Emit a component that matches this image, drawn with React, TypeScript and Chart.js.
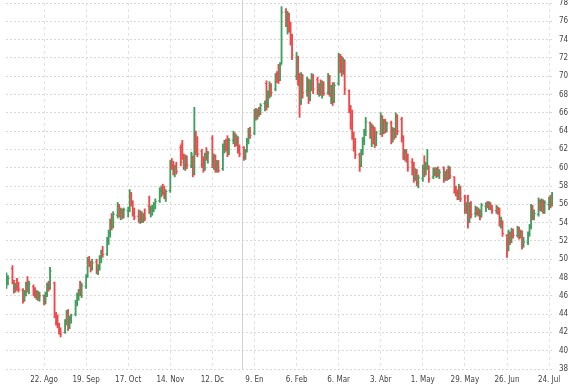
import { useEffect, useRef } from "react";
import { Chart, registerables } from "chart.js";

Chart.register(...registerables);

// Day numbers count from Monday 25 Jul 2016 (= day 0)
const FIRST_DAY = 3; // Thu 28 Jul 2016
const LAST_DAY = 366; // Wed 26 Jul 2017
const X_MIN = 2.7;
const X_MAX = 366.6;
const YEAR_LINE_DAY = 160; // 1 Jan 2017

const tickDays = [28, 56, 84, 112, 140, 168, 196, 224, 252, 280, 308, 336, 364];
const tickLabels = ["22. Ago", "19. Sep", "17. Oct", "14. Nov", "12. Dc", "9. En", "6. Feb", "6. Mar", "3. Abr", "1. May", "29. May", "26. Jun", "24. Jul"];

const opens = [
  47.2,47.6,49.0,47.4,46.9,47.7,47.0,46.6,45.6,46.3,
  47.4,46.8,47.0,46.5,46.2,46.4,45.9,46.0,45.4,46.1,
  47.1,46.9,47.4,44.0,43.3,42.9,42.3,42.0,43.1,44.0,
  42.6,43.5,44.0,45.2,45.9,46.6,46.3,47.0,48.2,49.9,
  49.4,49.1,49.7,48.8,49.0,50.2,50.7,50.6,52.1,52.8,
  54.0,53.7,54.8,55.8,55.0,55.3,54.8,55.3,55.4,57.1,
  56.0,55.1,54.7,54.4,54.9,54.3,54.9,55.8,55.2,55.4,
  55.6,56.0,56.4,57.4,57.9,57.2,56.9,57.5,60.3,60.2,
  59.6,60.1,62.2,62.6,61.2,60.3,61.0,60.2,61.0,59.4,
  62.8,62.0,61.8,60.4,59.9,61.4,61.1,63.2,60.5,61.1,
  59.9,60.4,59.9,62.2,62.7,62.1,61.6,63.0,63.5,62.7,
  63.2,62.0,62.2,61.2,61.9,62.9,64.0,63.8,66.0,65.6,
  66.1,66.0,67.0,69.2,67.0,68.0,68.9,68.6,70.1,69.8,
  69.6,71.4,77.0,76.1,76.6,75.5,74.4,70.0,71.8,69.6,
  67.2,69.8,68.4,69.4,67.6,69.1,69.9,69.6,68.5,68.9,
  68.3,69.2,68.2,69.8,68.1,68.6,67.3,69.2,72.1,72.0,
  70.6,71.5,68.4,66.5,64.8,63.6,62.3,61.4,60.3,61.6,
  62.9,63.8,64.9,63.4,64.4,63.0,62.6,63.7,65.5,63.9,
  65.1,64.2,64.9,63.1,64.1,63.5,65.5,65.3,63.3,61.1,
  61.7,61.0,60.6,59.6,58.9,59.5,58.4,58.8,59.9,59.5,
  60.0,60.1,59.0,59.9,59.4,59.9,59.3,60.0,58.9,59.2,
  58.8,59.8,59.0,57.6,57.3,56.9,57.8,56.8,55.5,56.8,
  54.2,55.7,55.0,55.5,55.1,55.3,54.7,55.8,56.1,55.7,
  56.0,55.6,55.3,55.6,55.2,54.1,54.1,52.6,51.1,52.7,
  52.0,52.9,52.6,53.3,52.6,53.0,51.6,51.8,52.7,53.5,
  55.5,54.7,54.9,56.3,55.6,56.2,55.3,56.0,56.5,56.0,
];

const highs = [
  48.5,48.2,49.3,47.7,47.4,47.9,47.5,46.8,46.6,47.5,
  48.1,47.6,47.2,46.9,46.6,46.5,46.4,46.1,46.4,47.4,
  47.6,49.1,47.5,44.2,43.9,43.0,42.5,43.4,44.4,44.5,
  43.8,44.0,45.5,46.3,46.7,47.6,47.4,48.3,50.2,50.3,
  49.8,50.0,50.0,49.4,50.4,51.0,51.4,52.4,53.2,54.4,
  55.0,55.2,56.2,56.0,55.6,55.5,55.6,55.7,57.6,57.3,
  56.4,55.6,55.4,55.3,55.2,55.0,55.5,56.9,55.8,55.9,
  56.2,56.6,57.8,58.0,58.2,58.0,57.6,60.8,61.0,60.7,
  60.3,60.6,62.5,63.0,61.5,61.4,61.3,61.7,61.3,66.6,
  64.0,63.4,62.0,61.2,61.6,62.2,61.8,63.5,61.5,61.4,
  60.8,60.8,62.6,63.0,63.1,63.5,63.2,64.0,63.8,63.6,
  63.4,62.5,62.3,62.0,63.2,64.3,64.4,66.4,66.5,66.4,
  66.6,67.0,67.3,69.5,68.4,69.4,69.2,70.3,70.5,71.3,
  71.5,77.6,77.4,77.1,76.9,75.9,74.6,72.6,72.2,70.3,
  70.4,70.2,69.9,69.7,69.6,70.3,70.2,69.9,69.2,69.6,
  69.5,69.4,70.3,70.1,69.0,69.3,69.3,72.5,72.4,72.2,
  72.0,71.8,68.5,66.8,66.3,63.9,63.2,61.6,62.0,63.3,
  64.2,65.5,65.0,64.8,64.6,64.4,64.0,66.0,65.7,65.3,
  65.3,65.0,65.1,64.4,64.3,66.0,65.8,65.5,63.5,62.0,
  62.0,61.5,61.0,60.6,59.9,59.8,59.2,60.3,61.3,60.6,
  62.0,60.2,60.0,60.0,60.0,60.1,59.8,60.1,59.6,59.8,
  60.2,60.1,59.0,58.0,57.6,58.2,58.0,57.0,56.2,57.0,
  56.2,56.3,55.8,55.7,55.6,55.4,56.1,56.2,56.3,56.3,
  56.2,55.9,55.9,55.7,55.6,54.6,54.2,52.7,53.2,53.0,
  53.4,53.3,53.6,53.5,53.2,53.1,52.4,53.0,53.8,56.0,
  55.9,55.4,56.7,56.5,56.6,56.5,56.4,56.8,57.0,57.3,
];

const lows = [
  46.8,47.2,47.3,46.3,46.4,46.6,46.4,45.2,45.4,46.0,
  46.4,46.2,46.0,45.8,45.6,45.5,45.4,45.0,45.1,45.9,
  46.5,46.7,43.6,42.8,42.5,41.8,41.5,41.9,42.8,42.2,
  42.4,43.0,43.8,44.9,45.5,46.0,45.8,46.8,48.0,49.2,
  48.6,48.8,48.4,48.3,48.8,49.6,50.2,50.4,51.6,52.4,
  53.2,53.4,54.5,54.6,54.3,54.4,54.5,54.6,55.2,55.8,
  54.7,54.3,54.0,53.9,54.0,54.0,54.2,55.0,54.6,54.8,
  55.2,55.5,56.2,56.8,57.0,56.6,56.3,57.3,59.8,59.2,
  59.0,59.3,60.2,60.9,59.8,59.7,59.9,60.0,59.0,59.2,
  61.4,61.2,60.0,59.5,59.7,60.8,60.5,60.0,59.8,59.5,
  59.5,59.5,59.7,61.6,61.8,61.2,61.4,62.6,62.3,62.4,
  61.6,61.2,60.8,60.9,61.7,62.6,63.2,63.6,65.2,65.3,
  65.6,65.8,66.2,66.3,66.6,67.6,67.8,68.4,69.3,69.2,
  69.5,71.3,75.4,74.6,74.8,73.4,71.8,69.6,69.0,65.5,
  66.9,67.6,67.8,67.0,67.3,68.4,68.1,68.0,67.8,67.9,
  67.6,67.9,68.0,67.8,67.0,66.8,67.1,69.0,70.4,70.0,
  70.2,68.0,66.0,64.2,63.1,61.8,61.0,59.6,60.1,61.4,
  62.5,63.5,63.2,62.3,62.6,62.2,62.4,63.6,63.4,63.7,
  63.8,63.9,62.6,62.8,63.1,63.3,63.6,62.8,60.9,60.8,
  60.6,59.6,59.2,58.4,58.6,58.0,57.8,58.5,59.0,59.2,
  59.8,58.4,58.8,59.1,58.9,59.0,58.8,58.4,58.6,58.6,
  58.7,58.8,57.2,56.9,56.5,56.5,56.3,55.0,55.0,53.4,
  54.0,54.5,54.6,54.8,54.7,54.3,54.6,55.2,55.6,55.4,
  55.4,55.0,55.0,54.9,53.6,53.4,52.5,50.2,50.9,51.6,
  51.8,52.3,52.4,52.2,52.3,51.1,51.3,51.6,52.5,53.3,
  54.3,54.3,54.7,55.3,55.2,55.0,55.0,55.4,55.6,55.8,
];

const closes = [
  48.0,47.9,47.5,46.8,47.2,46.9,46.7,45.5,46.4,47.2,
  46.7,47.3,46.4,46.1,46.5,45.8,46.0,45.3,46.2,47.2,
  46.8,48.7,44.0,43.2,42.8,42.2,41.8,43.2,44.1,42.5,
  43.6,43.9,45.3,46.0,46.5,46.2,47.1,48.1,49.8,49.5,
  49.0,49.6,48.7,49.1,50.1,50.8,50.5,52.2,52.9,54.1,
  53.6,54.9,55.9,54.9,55.4,54.7,55.4,55.5,57.2,56.1,
  55.0,54.6,54.3,55.0,54.2,54.8,54.5,55.3,55.5,55.7,
  56.0,56.3,57.5,57.8,57.3,56.8,57.4,60.4,60.1,59.5,
  60.0,59.6,60.6,61.2,60.2,60.9,60.3,61.5,59.3,61.6,
  61.8,61.5,60.3,59.8,61.3,61.0,61.6,60.4,61.2,59.8,
  60.5,59.7,62.3,62.8,62.0,61.5,63.0,63.6,62.6,63.3,
  61.9,61.5,61.1,61.8,63.0,64.0,63.5,66.1,65.5,66.2,
  65.9,66.8,67.1,66.8,68.1,69.0,68.2,70.0,69.6,69.5,
  71.2,77.0,76.0,76.8,75.2,74.0,72.3,72.0,69.5,67.0,
  70.0,68.2,69.5,67.5,69.2,70.0,68.6,68.4,69.0,68.2,
  69.3,68.1,70.0,68.0,68.7,67.2,69.0,72.2,70.8,70.5,
  71.6,68.6,66.4,64.6,63.5,62.2,61.4,60.2,61.7,63.0,
  63.9,65.0,63.5,64.5,62.9,62.5,63.8,65.6,63.8,65.0,
  64.1,64.8,63.0,64.2,63.4,65.6,64.0,63.2,61.2,61.8,
  60.9,60.0,59.5,58.8,59.6,58.3,58.9,60.0,59.4,60.4,
  60.2,58.8,59.6,59.3,59.8,59.2,59.5,58.8,59.3,58.9,
  60.0,59.1,57.5,57.2,56.8,57.9,56.6,55.4,56.0,54.0,
  55.8,54.9,55.6,55.0,55.4,54.6,55.9,56.0,55.7,56.1,
  55.6,55.3,55.7,55.1,54.0,54.3,52.8,51.0,52.8,51.9,
  53.0,52.6,53.4,52.5,53.0,51.5,51.9,52.8,53.6,55.6,
  54.6,55.0,56.4,55.5,56.3,55.2,56.2,56.6,55.9,57.1,
];

const UP = "#3f9f5e";
const DOWN = "#f2474a";
const TICK_FONT = { family: "'DejaVu Sans Condensed', 'Liberation Sans Narrow', 'Liberation Sans', Arial", size: 8 };

const tradingDays: number[] = [];
for (let d = FIRST_DAY; d <= LAST_DAY; d++) {
  if (d % 7 < 5) tradingDays.push(d);
}

const ohlcTicks = {
  id: "ohlcTicks",
  afterDatasetsDraw(chart: any) {
    const meta = chart.getDatasetMeta(0);
    const ys = chart.scales.y;
    const area = chart.chartArea;
    const ctx = chart.ctx;
    ctx.save();
    ctx.beginPath();
    ctx.rect(area.left, area.top, area.right - area.left, area.bottom - area.top);
    ctx.clip();
    ctx.lineWidth = 1;
    meta.data.forEach((el: any, i: number) => {
      const x = el.x;
      const yo = ys.getPixelForValue(opens[i]);
      const yc = ys.getPixelForValue(closes[i]);
      ctx.strokeStyle = closes[i] >= opens[i] ? UP : DOWN;
      ctx.beginPath();
      ctx.moveTo(x - 1.6, yo);
      ctx.lineTo(x, yo);
      ctx.moveTo(x, yc);
      ctx.lineTo(x + 1.6, yc);
      ctx.stroke();
    });
    ctx.restore();
  },
};

const yearLine = {
  id: "yearLine",
  beforeDatasetsDraw(chart: any) {
    const xs = chart.scales.x;
    const area = chart.chartArea;
    const x = Math.round(xs.getPixelForValue(YEAR_LINE_DAY)) + 0.5;
    const ctx = chart.ctx;
    ctx.save();
    ctx.strokeStyle = "#d0d0d0";
    ctx.lineWidth = 1;
    ctx.beginPath();
    ctx.moveTo(x, 0);
    ctx.lineTo(x, area.bottom);
    ctx.stroke();
    ctx.restore();
  },
};

export default function App() {
  const ref = useRef<HTMLCanvasElement | null>(null);

  useEffect(() => {
    if (!ref.current) return;
    const chart = new Chart(ref.current, {
      type: "bar",
      data: {
        datasets: [
          {
            data: tradingDays.map((d, i) => ({ x: d, y: [lows[i], highs[i]] })) as any,
            backgroundColor: tradingDays.map((_, i) => (closes[i] >= opens[i] ? UP : DOWN)),
            borderWidth: 0,
            barThickness: 1.2,
            grouped: false,
          } as any,
        ],
      },
      options: {
        animation: false,
        responsive: false,
        layout: { padding: { left: 6, top: 3, right: 0, bottom: 0 } },
        plugins: { legend: { display: false }, tooltip: { enabled: false } },
        scales: {
          x: {
            type: "linear",
            min: X_MIN,
            max: X_MAX,
            offset: false,
            afterBuildTicks: (s: any) => {
              s.ticks = tickDays.map((v) => ({ value: v }));
            },
            afterFit: (s: any) => {
              s.height = 19;
              s.paddingLeft = 0;
              s.paddingRight = 0;
            },
            ticks: {
              autoSkip: false,
              maxRotation: 0,
              padding: 6,
              color: "#444",
              font: TICK_FONT,
              callback: (v: any) => {
                const idx = tickDays.indexOf(Number(v));
                return idx >= 0 ? tickLabels[idx] : "";
              },
            },
            grid: { color: "#e2e2e2", drawTicks: false, offset: false },
            border: { display: false, dash: [3, 3] },
          } as any,
          y: {
            position: "right",
            min: 38,
            max: 78,
            afterFit: (s: any) => {
              s.width = 25;
              s.paddingTop = 0;
              s.paddingBottom = 0;
            },
            ticks: {
              stepSize: 2,
              padding: 6,
              color: "#444",
              font: TICK_FONT,
            },
            grid: { color: "#d8d8d8", drawTicks: false },
            border: { display: false, dash: [2, 2] },
          } as any,
        },
      },
      plugins: [yearLine, ohlcTicks],
    });
    return () => chart.destroy();
  }, []);

  return (
    <div style={{ position: "absolute", left: 0, top: 0, width: 578, height: 388, background: "#fff" }}>
      <canvas ref={ref} width={578} height={388} />
    </div>
  );
}
